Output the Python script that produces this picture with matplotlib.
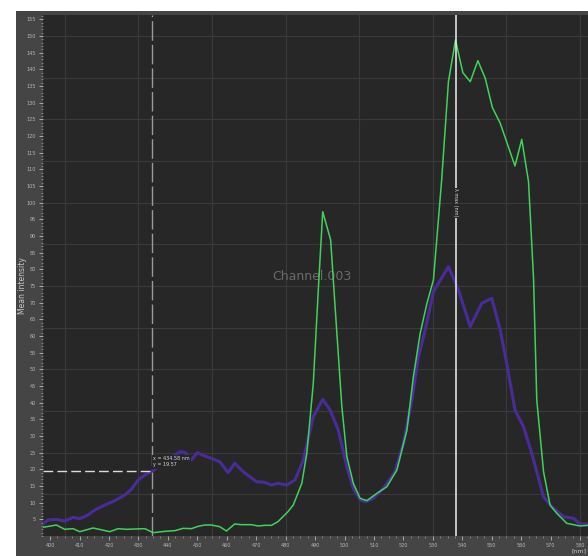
import numpy as np
import matplotlib.pyplot as plt
from matplotlib.patches import Rectangle

# wavelength (nm) / mean intensity of the two channels
wl_green = [397.6, 402.1, 405.0, 407.8, 410.1, 414.6, 420.3, 423.1, 425.9, 428.8,
            432.2, 435.0, 439.0, 442.4, 445.2, 448.0, 450.3, 452.5, 454.8, 457.6,
            459.9, 462.7, 465.0, 468.4, 470.7, 472.9, 475.2, 477.4, 480.8, 482.6,
            485.5, 487.2, 489.4, 491.1, 492.6, 495.3, 496.8, 499.1, 500.8, 503.0,
            505.3, 507.6, 511.0, 514.4, 517.8, 521.2, 523.4, 525.7, 528.0, 530.2,
            533.0, 535.3, 537.7, 540.2, 542.7, 545.3, 547.8, 550.2, 552.9, 557.9,
            560.2, 562.5, 564.2, 565.3, 567.6, 569.8, 572.1, 575.5, 580.0, 582.7]
int_green = [2.6, 3.3, 2.0, 2.2, 1.3, 2.4, 1.3, 2.2, 2.0, 2.1,
             2.2, 1.0, 1.4, 1.6, 2.3, 2.2, 2.9, 3.3, 3.3, 2.8,
             1.5, 3.6, 3.4, 3.4, 3.0, 3.2, 3.2, 4.3, 7.3, 9.3,
             15.8, 24.8, 45.8, 73.8, 97.3, 88.8, 68.8, 38.8, 23.8, 15.8,
             11.3, 10.6, 12.8, 14.8, 19.8, 31.8, 47.8, 60.8, 69.8, 76.8,
             106.8, 136.3, 148.8, 139.0, 136.3, 142.6, 137.3, 128.6, 123.8, 111.0,
             119.0, 106.3, 77.3, 40.8, 19.3, 9.3, 6.8, 3.8, 3.0, 3.2]

wl_purple = [397.6, 399.3, 402.1, 405.0, 407.8, 410.1, 412.9, 415.2, 418.6, 422.0,
             425.4, 427.6, 429.9, 432.2, 435.0, 438.4, 441.8, 444.1, 445.8, 448.0,
             450.0, 452.5, 454.8, 457.6, 460.5, 462.7, 465.6, 467.8, 470.1, 472.9,
             475.2, 477.4, 480.4, 483.2, 486.0, 489.4, 492.6, 495.1, 497.9, 500.8,
             503.0, 505.3, 507.3, 509.8, 513.2, 517.2, 520.0, 522.9, 525.1, 527.4,
             530.2, 535.3, 538.7, 542.7, 546.6, 550.0, 552.9, 555.1, 557.9, 560.8,
             563.6, 567.6, 570.4, 574.4, 577.8, 580.0, 582.7]
int_purple = [3.6, 4.8, 5.0, 4.5, 5.6, 5.2, 6.3, 7.8, 9.3, 10.6,
              12.3, 14.0, 16.8, 18.3, 19.6, 21.8, 23.8, 25.3, 25.1, 22.8,
              25.0, 24.0, 23.3, 22.3, 19.0, 21.8, 19.3, 17.8, 16.3, 16.1,
              15.3, 15.8, 15.3, 16.8, 22.8, 35.8, 41.0, 37.8, 31.8, 20.8,
              14.3, 10.8, 10.3, 11.3, 14.3, 19.3, 27.8, 40.8, 53.8, 61.8,
              73.3, 80.8, 73.8, 62.8, 69.8, 71.3, 61.8, 51.8, 37.8, 32.8,
              24.8, 11.8, 8.8, 5.8, 5.3, 3.6, 3.6]

xticks = list(range(400, 590, 10))
yticks = list(range(5, 160, 5))
cursor_x, cursor_y = 434.6, 19.57
peak_x = 537.7

fig = plt.figure(figsize=(5.88, 5.56), dpi=100)
fig.patch.set_facecolor('white')
fig.patches.append(Rectangle((16/588, 0), 1, (556-11)/556, transform=fig.transFigure,
                             facecolor='#454545', edgecolor='none', zorder=-1))
ax = fig.add_axes([43/588, 20/556, 545/588, 521/556])
ax.set_facecolor('#272727')

# grid
for gx in np.arange(405, 590, 25):
    ax.axvline(gx, color='#3a3a3a', lw=0.8, zorder=0)
for gy in np.arange(12.5, 160, 12.5):
    ax.axhline(gy, color='#3a3a3a', lw=0.8, zorder=0)

ax.plot(wl_purple, int_purple, color='#4a2b9a', lw=2.2, zorder=2)
ax.plot(wl_green, int_green, color='#3fd35a', lw=1.1, zorder=3)

# cursor markers
ax.axvline(cursor_x, color='#9a9a9a', lw=1.0, ls=(0, (14, 3)), zorder=1)
ax.plot([397.6, cursor_x], [cursor_y, cursor_y], color='#dcdcdc', lw=1.0,
        ls=(0, (7, 3)), zorder=4)
ax.text(cursor_x + 0.5, cursor_y + 1.0, "x = 434.58 nm\ny = 19.57", fontsize=3.5,
        color='#d8d8d8', va='bottom', ha='left', linespacing=1.3, zorder=5,
        bbox=dict(facecolor='#272727', edgecolor='none', pad=0.8))
ax.axvline(peak_x, color='#f0f0f0', lw=1.1, zorder=4)
ax.text(peak_x, 100, "λ max (nm)", fontsize=3.5, color='#d8d8d8', rotation=270,
        ha='center', va='center', zorder=5,
        bbox=dict(facecolor='#272727', edgecolor='none', pad=0.6))

ax.text(489, 78, "Channel.003", fontsize=9, color='#6a6a6a', ha='center',
        va='center', zorder=1)

ax.set_xlim(397.6, 582.7)
ax.set_ylim(0, 156.3)
ax.set_xticks(xticks)
ax.set_xticklabels([str(v) for v in xticks])
ax.set_xticks(np.arange(400, 585, 2.5), minor=True)
ax.set_yticks(yticks)
ax.set_yticklabels([str(v) for v in yticks])
ax.set_yticks(np.arange(0, 157, 1), minor=True)
ax.tick_params(axis='both', which='major', colors='#b8b8b8', labelsize=3.5,
               length=3, width=0.6, pad=2)
ax.tick_params(axis='both', which='minor', colors='#9a9a9a', length=1.5, width=0.5)
for sp in ax.spines.values():
    sp.set_visible(False)

ax.set_ylabel("Mean intensity", fontsize=5.5, color='#c8c8c8', labelpad=3)
ax.yaxis.set_label_coords(-0.03, 0.48)
fig.text(586/588, 3/556, "[nm]", fontsize=4.5, color='#c8c8c8', ha='right', va='bottom')

fig.savefig("out.png", dpi=100)
